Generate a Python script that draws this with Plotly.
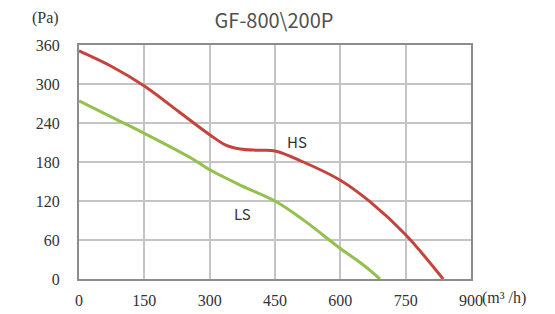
import plotly.graph_objects as go

hs_x = [0, 75, 150, 230, 300, 337, 370, 410, 450, 515, 600, 668, 750, 836]
hs_y = [351, 327, 297, 257, 222, 206, 200, 198, 197, 180, 152, 119, 68, 0]
ls_x = [0, 75, 150, 260, 300, 375, 450, 515, 600, 650, 691]
ls_y = [274, 249, 224, 185, 168, 143, 120, 91, 47, 23, 0]
x_ticks = [0, 150, 300, 450, 600, 750, 900]
y_ticks = [0, 60, 120, 180, 240, 300, 360]
title = "GF-800\\200P"

fig = go.Figure()
fig.add_trace(go.Scatter(x=hs_x, y=hs_y, mode="lines",
                         line=dict(color="#c4443c", width=3, shape="spline", smoothing=1.0),
                         showlegend=False, hoverinfo="skip"))
fig.add_trace(go.Scatter(x=ls_x, y=ls_y, mode="lines",
                         line=dict(color="#93c04e", width=3, shape="spline", smoothing=1.0),
                         showlegend=False, hoverinfo="skip"))

serif = "Liberation Serif, DejaVu Serif, serif"
sans = "Noto Sans CJK SC, Noto Sans, sans-serif"

L, R, T, B = 79, 84, 45, 35
W, H = 555, 314
pw, ph = W - L - R, H - T - B

def px_x(v):
    return (v - L) / pw

def px_y(v):
    return 1 - (v - T) / ph

fig.update_layout(
    width=W, height=H,
    margin=dict(l=L, r=R, t=T, b=B, autoexpand=False),
    paper_bgcolor="white", plot_bgcolor="white",
    title=dict(text=title, x=(274 / W), xanchor="center", y=1 - 21 / H, yanchor="middle",
               font=dict(family=sans, size=20, color="#505050")),
    xaxis=dict(range=[0, 900], tickvals=x_ticks, showgrid=True, gridcolor="#c4c4c4", gridwidth=1.5,
               showline=True, linecolor="#8c8c8c", linewidth=2, mirror=True, zeroline=False,
               tickfont=dict(family=serif, size=16, color="#333333"), ticks="",
               ticklabelstandoff=6, fixedrange=True, automargin=False),
    yaxis=dict(range=[0, 360], tickvals=y_ticks, showgrid=True, gridcolor="#c4c4c4", gridwidth=1.5,
               showline=True, linecolor="#8c8c8c", linewidth=2, mirror=True, zeroline=False,
               tickfont=dict(family=serif, size=16, color="#333333"), ticks="",
               ticklabelstandoff=14, fixedrange=True, automargin=False),
    annotations=[
        dict(text="HS", x=500, y=211, xref="x", yref="y", showarrow=False,
             font=dict(family=sans, size=15, color="#333333")),
        dict(text="LS", x=376, y=101, xref="x", yref="y", showarrow=False,
             font=dict(family=sans, size=15, color="#333333")),
        dict(text="(Pa)", x=px_x(45), y=px_y(18), xref="paper", yref="paper", showarrow=False,
             xanchor="center", yanchor="middle",
             font=dict(family=serif, size=16, color="#333333")),
        dict(text="(m³ /h)", x=px_x(504), y=px_y(298), xref="paper", yref="paper", showarrow=False,
             xanchor="center", yanchor="middle",
             font=dict(family=serif, size=16, color="#333333")),
    ],
)
fig.write_html("out.html", config={"displayModeBar": False},
               post_script="document.body.style.margin='0';document.body.style.padding='0';")
